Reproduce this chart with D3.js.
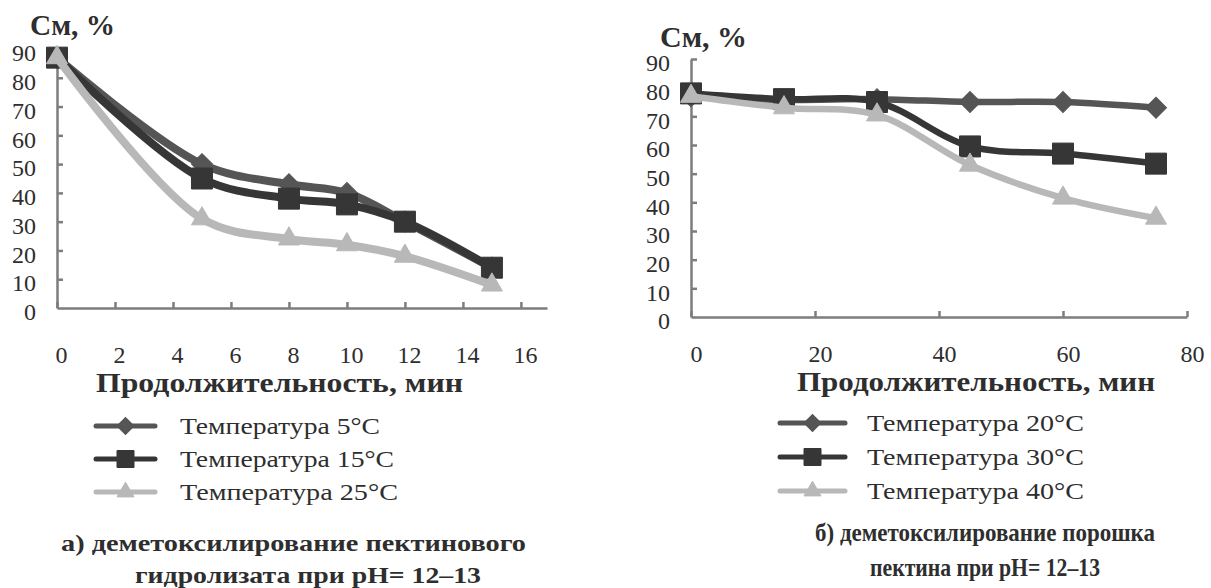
<!DOCTYPE html>
<html><head><meta charset="utf-8">
<script src="https://cdn.jsdelivr.net/npm/d3@7"></script>
<style>body{margin:0;background:#fff}svg{display:block}</style>
</head><body><svg id="c" width="1211" height="588"></svg>
<script>
// ---------- data ----------
const leftTimes = [0, 5, 8, 10, 12, 15];
const leftT5  = [87, 50, 43, 40, 30, 14];
const leftT15 = [87, 45, 38, 36, 30, 14];
const leftT25 = [87, 31, 24, 22, 18, 8];
const leftXTicks = [0, 2, 4, 6, 8, 10, 12, 14, 16];
const leftLegend = ["Температура 5°C", "Температура 15°C", "Температура 25°C"];

const rightTimes = [0, 15, 30, 45, 60, 75];
const rightT20 = [77, 75.7, 76, 75, 75, 73];
const rightT30 = [78, 76, 75, 59.5, 57, 53.5];
const rightT40 = [77, 73, 70.5, 53, 41.5, 34.5];
const rightXTicks = [0, 20, 40, 60, 80];
const rightLegend = ["Температура 20°C", "Температура 30°C", "Температура 40°C"];

const yTicks = [0, 10, 20, 30, 40, 50, 60, 70, 80, 90];
const yTitle = "См, %";
const xTitle = "Продолжительность, мин";
const leftCaption = ["а) деметоксилирование пектинового", "гидролизата при pH= 12–13"];
const rightCaption = ["б) деметоксилирование порошка", "пектина при pH= 12–13"];

// ---------- font ----------
function pickFont(cands) {
  const c = document.createElement("canvas").getContext("2d");
  const t = "Температура 0123456789 мин";
  for (const f of cands) {
    c.font = "40px monospace"; const w0 = c.measureText(t).width;
    c.font = `40px "${f}", monospace`; const w = c.measureText(t).width;
    if (Math.abs(w - w0) > 0.5) return `"${f}"`;
  }
  return "serif";
}
const FONT = pickFont(["Liberation Serif", "Tinos", "Times New Roman", "Times", "Nimbus Roman", "FreeSerif", "DejaVu Serif"]);

// ---------- styles ----------
const shapes = ["diamond", "square", "triangle"];
const colors = ["#555555", "#363636", "#b8b8b8"];
const axisColor = "#7d7d7d";
const textColor = "#2e2e2e";

const svg = d3.select("#c");

function symbolPath(shape, size) {
  if (shape === "diamond") return d3.symbol(d3.symbolSquare, size * size / 2)();
  if (shape === "square") return d3.symbol(d3.symbolSquare, size * size)();
  return d3.symbol(d3.symbolTriangle, Math.sqrt(3) / 4 * size * size)();
}
function marker(g, shape, color, cx, cy, size) {
  g.append("path")
    .attr("d", symbolPath(shape, size))
    .attr("transform", `translate(${cx},${cy})` + (shape === "diamond" ? " rotate(45)" : ""))
    .attr("fill", color).attr("stroke", color).attr("stroke-width", 1);
}
function label(g, s, x0, base, size, weight, width) {
  g.append("text").attr("x", x0).attr("y", base)
    .style("font-family", FONT).style("font-size", size + "px").style("font-weight", weight)
    .attr("fill", textColor)
    .attr("textLength", width).attr("lengthAdjust", "spacingAndGlyphs")
    .text(s);
}

function drawChart(cfg) {
  const g = svg.append("g");
  const x = d3.scaleLinear().domain(cfg.xDomain).range(cfg.xRange);
  const y = d3.scaleLinear().domain([0, 90]).range(cfg.yRange);

  // axes
  const xa = g.append("g").attr("transform", `translate(0,${cfg.yRange[0]})`)
    .call(d3.axisBottom(x).tickValues(cfg.xTicks).tickSizeInner(-6).tickSizeOuter(0).tickFormat(d3.format("d")));
  xa.selectAll("text").attr("y", cfg.xLabelOffset).attr("dy", "0.35em").attr("dx", cfg.xLabelDx)
    .style("font-size", "24px").style("font-family", FONT).attr("fill", textColor);
  const ya = g.append("g").attr("transform", `translate(${cfg.xRange[0]},0)`)
    .call(d3.axisLeft(y).tickValues(yTicks).tickSizeInner(-6).tickSizeOuter(0).tickPadding(21));
  ya.selectAll("text").attr("y", 4).style("font-size", "24px").style("font-family", FONT).attr("fill", textColor);
  g.selectAll(".domain, .tick line").attr("stroke", axisColor).attr("stroke-width", 2.5);
  ya.select(".tick line").remove();

  // series
  const line = d3.line().x((d, i) => x(cfg.times[i])).y(d => y(d)).curve(d3.curveCatmullRom.alpha(0.5));
  cfg.series.forEach((vals, k) => {
    g.append("path").datum(vals).attr("d", line).attr("fill", "none")
      .attr("stroke", colors[k]).attr("stroke-width", cfg.lineWidth)
      .attr("stroke-linejoin", "round").attr("stroke-linecap", "round");
    vals.forEach((v, i) => marker(g, shapes[k], colors[k], x(cfg.times[i]), y(v), cfg.markerSize));
  });

  // titles
  label(g, yTitle, cfg.yTitle[0], cfg.yTitle[1], 29, "bold", cfg.yTitle[2]);
  label(g, xTitle, cfg.xTitle[0], cfg.xTitle[1], 27, "bold", cfg.xTitle[2]);

  // legend
  cfg.legend.forEach((s, k) => {
    const cy = cfg.legendY[k];
    g.append("line").attr("x1", cfg.legendLine[0]).attr("x2", cfg.legendLine[1])
      .attr("y1", cy).attr("y2", cy).attr("stroke", colors[k]).attr("stroke-width", 5)
      .attr("stroke-linecap", "round");
    marker(g, shapes[k], colors[k], (cfg.legendLine[0] + cfg.legendLine[1]) / 2, cy, 17);
    label(g, s, cfg.legendText, cy + 8, 23, "normal", cfg.legendW[k]);
  });

  // caption
  cfg.caption.forEach((s, k) => {
    const c = cfg.captionPos[k];
    label(g, s, c[0], c[1], cfg.captionSize, "bold", c[2]);
  });
}

drawChart({
  times: leftTimes, series: [leftT5, leftT15, leftT25],
  xDomain: [0, 16.9], xRange: [57, 547], yRange: [308, 49],
  xTicks: leftXTicks, xLabelOffset: 47, xLabelDx: 4,
  lineWidth: 8, markerSize: 21,
  yTitle: [30, 35, 85], xTitle: [96, 392, 367],
  legend: leftLegend, legendY: [426, 459, 492], legendLine: [96, 155], legendText: 180,
  legendW: [200, 214, 218],
  caption: leftCaption, captionSize: 24, captionPos: [[61, 551, 465], [135, 583, 346]]
});

drawChart({
  times: rightTimes, series: [rightT20, rightT30, rightT40],
  xDomain: [0, 80], xRange: [691, 1187], yRange: [317, 59],
  xTicks: rightXTicks, xLabelOffset: 37, xLabelDx: 5,
  lineWidth: 6.5, markerSize: 21,
  yTitle: [660, 47, 87], xTitle: [797, 391, 358],
  legend: rightLegend, legendY: [423, 457, 491], legendLine: [780, 845], legendText: 867,
  legendW: [217, 217, 217],
  caption: rightCaption, captionSize: 25, captionPos: [[815, 541, 340], [870, 576, 230]]
});
</script>
</body></html>
